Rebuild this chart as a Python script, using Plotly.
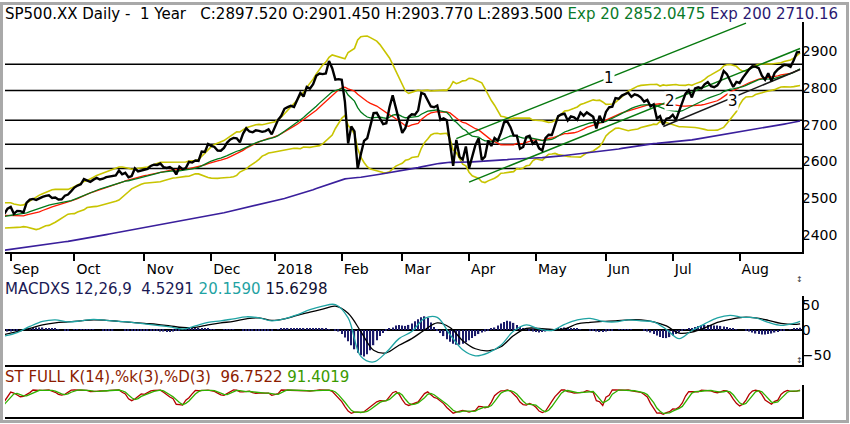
import numpy as np
import pandas as pd
import plotly.graph_objects as go

W, H = 850, 424

# exchange holidays inside the visible year
holidays = ["2017-09-04", "2017-11-23", "2017-12-25", "2018-01-01", "2018-01-15",
            "2018-02-19", "2018-03-30", "2018-05-28", "2018-07-04"]

# bars loaded before the visible window (indicator warm-up), Jul 3 - Aug 29 2017
warmup_close = [2429.01, 2432.54, 2409.75, 2425.18, 2427.43, 2425.53, 2443.25, 2447.83, 2459.27, 2459.14,
                2460.61, 2473.83, 2473.45, 2472.54, 2469.91, 2477.13, 2477.83, 2475.42, 2472.10, 2470.30,
                2476.35, 2477.57, 2472.16, 2476.83, 2480.91, 2474.92, 2474.02, 2438.21, 2441.32, 2465.84,
                2464.61, 2468.11, 2430.01, 2425.55, 2428.37, 2452.51, 2444.04, 2438.97, 2443.05, 2444.24,
                2446.30]

# daily closes, Aug 30 2017 - Aug 28 2018
close = [
    2457.59, 2471.65,
    # Sep
    2476.55, 2457.85, 2465.54, 2465.10, 2461.43, 2488.11, 2496.48, 2498.37, 2495.62, 2500.23,
    2503.87, 2506.65, 2508.24, 2500.60, 2502.22, 2496.66, 2496.84, 2507.04, 2510.06, 2519.36,
    # Oct
    2529.12, 2534.58, 2537.74, 2552.07, 2549.33, 2544.73, 2550.64, 2555.24, 2550.93, 2553.17,
    2557.64, 2559.36, 2561.26, 2562.10, 2575.21, 2564.98, 2569.13, 2557.15, 2560.40, 2581.07,
    2572.83, 2575.26,
    # Nov
    2579.36, 2579.85, 2587.84, 2591.13, 2590.64, 2594.38, 2584.62, 2582.30, 2584.84, 2578.87,
    2564.62, 2585.64, 2578.85, 2582.14, 2599.03, 2597.08, 2602.42, 2601.42, 2627.04, 2626.07,
    2647.58,
    # Dec
    2642.22, 2639.44, 2629.57, 2629.27, 2636.98, 2651.50, 2659.99, 2664.11, 2662.85, 2652.01,
    2675.81, 2690.16, 2681.47, 2679.25, 2684.57, 2683.34, 2680.50, 2682.62, 2687.54, 2673.61,
    # Jan
    2695.81, 2713.06, 2723.99, 2743.15, 2747.71, 2751.29, 2748.23, 2767.56, 2786.24, 2776.42,
    2802.56, 2798.03, 2810.30, 2832.97, 2839.13, 2837.54, 2839.25, 2872.87, 2853.53, 2822.43,
    2823.81,
    # Feb
    2821.98, 2762.13, 2648.94, 2695.14, 2681.66, 2581.00, 2619.55, 2656.00, 2662.94, 2698.63,
    2731.20, 2732.22, 2716.26, 2701.33, 2703.96, 2747.30, 2779.60, 2744.28, 2713.83,
    # Mar
    2677.67, 2691.25, 2720.94, 2728.12, 2726.80, 2738.97, 2786.57, 2783.02, 2765.31, 2749.48,
    2747.33, 2752.01, 2712.92, 2716.94, 2711.93, 2643.69, 2588.26, 2658.55, 2612.62, 2605.00,
    2640.87,
    # Apr
    2581.88, 2614.45, 2644.69, 2662.84, 2604.47, 2613.16, 2656.87, 2642.19, 2663.99, 2656.30,
    2677.84, 2706.39, 2708.64, 2693.13, 2670.14, 2670.29, 2634.56, 2639.40, 2666.94, 2669.91,
    2648.05,
    # May
    2654.80, 2635.67, 2629.73, 2663.42, 2672.63, 2671.92, 2697.79, 2723.07, 2727.72, 2730.13,
    2711.45, 2722.46, 2720.13, 2712.97, 2733.01, 2724.44, 2733.29, 2727.76, 2721.33, 2689.86,
    2724.01, 2705.27,
    # Jun
    2734.62, 2746.87, 2748.80, 2772.35, 2770.37, 2779.03, 2782.00, 2786.85, 2775.63, 2782.49,
    2779.66, 2773.75, 2762.59, 2767.32, 2749.76, 2754.88, 2717.07, 2723.06, 2699.63, 2716.31,
    2718.37,
    # Jul
    2726.71, 2713.22, 2736.61, 2759.82, 2784.17, 2793.84, 2774.02, 2798.29, 2801.31, 2798.43,
    2809.55, 2815.62, 2804.49, 2801.83, 2806.98, 2820.40, 2846.07, 2837.44, 2818.82, 2802.60,
    2816.29,
    # Aug
    2813.36, 2827.22, 2840.35, 2850.40, 2858.45, 2857.70, 2853.58, 2833.28, 2821.93, 2839.96,
    2818.37, 2840.69, 2850.13, 2857.05, 2862.96, 2861.82, 2856.98, 2874.69, 2896.74, 2897.52,
]

month_labels = ["Sep", "Oct", "Nov", "Dec", "2018", "Feb", "Mar", "Apr", "May", "Jun", "Jul", "Aug"]
price_ticks = [2400, 2500, 2600, 2700, 2800, 2900]
macd_ticks = [-50, 0, 50]

# horizontal price levels drawn on the chart
levels = [2864, 2793, 2712, 2647, 2581]

# hand drawn trend lines
trend_start_date = ["2018-03-26", "2018-04-02", "2018-06-27"]
trend_start_price = [2662, 2544, 2695]
trend_end_date = ["2018-08-03", "2018-08-28", "2018-08-28"]
trend_end_price = [2976, 2907, 2850]
trend_label = ["1", "2", "3"]
trend_label_date = ["2018-06-04", "2018-06-29", "2018-07-30"]
trend_label_price = [2828, 2765, 2763]

ema200_first = 2359   # Exp 200 value at the first visible bar

# MACDXS lines, every 4th bar (bar 0 = Aug 30 2017)
macd_bar = list(range(0, 249, 4)) + [250]
macd_line = [-12, -5, 7, 17, 20, 16, 18, 21, 19, 17, 15, 12, 9, 6, 2, 8,
             15, 18, 22, 26, 24, 18, 22, 30, 40, 47, 50, 24, -52, -63, -44, -17,
             -3, 23, 25, -9, -39, -51, -45, -30, -2, 10, 2, -1, 11, 20, 23, 17,
             16, 20, 18, 16, 1, -17, -1, 12, 24, 29, 25, 24, 15, 9, 13, 17]
macd_signal = [-9, -3, 3, 10, 14, 16, 18, 20, 19, 17, 15, 13, 11, 8, 5, 5,
               10, 14, 17, 22, 24, 19, 22, 29, 35, 41, 47, 33, -3, -40, -45, -30,
               -17, 0, 14, 5, -21, -37, -41, -33, -11, 3, 3, 1, 2, 12, 15, 17,
               18, 20, 20, 16, 8, -6, -4, 4, 15, 21, 25, 24, 19, 13, 11, 12]

# MACDXS histogram, one value per bar
macd_hist = [
    -3, -3, -3, -2, -1, 0, 1, 2, 3, 4,
    5, 5, 5, 4, 4, 3, 2, 1, 0, -1,
    -1, 0, 1, 1, 1, 1, 1, 1, 1, 0,
    0, -1, -1, -1, -1, 0, 0, 0, -1, -1,
    -1, -1, -1, -1, -1, -1, -2, -2, -2, -3,
    -3, -4, -4, -3, -2, -1, 0, 1, 2, 3,
    3, 3, 3, 2, 2, 1, 1, 0, 0, 1,
    1, 1, 1, 0, 0, -1, -1, -1, -1, -2,
    -2, -2, -2, -1, -1, 0, 1, 2, 2, 3,
    3, 3, 3, 3, 3, 3, 3, 3, 2, 2,
    2, 2, 1, 0, -1, -3, -8, -15, -22, -30,
    -38, -45, -50, -52, -48, -40, -30, -20, -12, -6,
    -2, 2, 5, 9, 10, 9, 8, 10, 13, 17,
    21, 25, 27, 24, 15, 6, -2, -6, -12, -18,
    -23, -27, -29, -29, -27, -24, -20, -16, -12, -8,
    -5, -3, -1, 2, 5, 9, 13, 16, 18, 17,
    14, 10, 6, 3, 1, -1, -3, -4, -5, -4,
    -3, -2, -1, 0, 2, 4, 5, 5, 4, 3,
    2, 1, 0, 0, -1, -2, -3, -4, -4, -3,
    -2, -1, 0, 1, 1, 1, 1, 1, 0, 0,
    0, -1, -3, -5, -8, -11, -14, -16, -16, -14,
    -11, -8, -5, -2, 1, 2, 4, 6, 8, 9,
    10, 10, 10, 9, 9, 8, 7, 6, 4, 2,
    1, 0, 0, -1, -3, -5, -7, -8, -9, -9,
    -8, -7, -5, -4, -2, -1, 0, 1, 2, 3,
    4.5,
]

# ---- trading-day axis
days = pd.bdate_range("2017-08-30", "2018-08-28")
days = days[~days.isin(pd.to_datetime(holidays))]
assert len(days) == len(close) == len(macd_hist)
idx = np.arange(len(close))
pos = pd.Series(idx, index=days)
month_first = pos.groupby([days.year, days.month]).first().values[1:]

# ---- indicators
s = pd.Series(warmup_close + close)
n0 = len(warmup_close)
ema20 = s.ewm(span=20, adjust=False).mean().values[n0:]
sma20 = s.rolling(20).mean().values[n0:]
sd20 = s.rolling(20).std(ddof=0).values[n0:]
bb_up = sma20 + 2 * sd20
bb_lo = sma20 - 2 * sd20

a200 = 2 / 201
ema200 = [ema200_first]
for c in close[1:]:
    ema200.append(ema200[-1] + a200 * (c - ema200[-1]))

lo14 = s.rolling(14).min()
hi14 = s.rolling(14).max()
raw_k = 100 * (s - lo14) / (hi14 - lo14)
st_k = raw_k.rolling(3).mean()
st_d = st_k.rolling(3).mean()
st_k = st_k.values[n0:]
st_d = st_d.values[n0:]

# ---- figure
fig = go.Figure()

def line(x, y, color, width, xa="x", ya="y", shape="linear"):
    fig.add_trace(go.Scatter(x=x, y=y, mode="lines", xaxis=xa, yaxis=ya,
                             line=dict(color=color, width=width, shape=shape), hoverinfo="skip"))

line(idx, bb_up, "#c8c400", 1.6)
line(idx, bb_lo, "#c8c400", 1.6)
line(idx, ema200, "#3a1f9c", 1.6)
line(idx, sma20, "#ff1a00", 1.3)
line(idx, ema20, "#007a1a", 1.3)

for i in range(len(trend_label)):
    xs = [pos[pd.Timestamp(trend_start_date[i])], pos[pd.Timestamp(trend_end_date[i])]]
    line(xs, [trend_start_price[i], trend_end_price[i]],
         "#1a1a1a" if i == 2 else "#087a10", 1.5)

line(idx, close, "black", 2.4)

fig.add_trace(go.Bar(x=idx, y=macd_hist, width=0.42, xaxis="x2", yaxis="y2",
                     marker=dict(color="#1c1c6a", line=dict(width=0)), hoverinfo="skip"))
line(macd_bar, macd_signal, "black", 1.3, "x2", "y2", "spline")
line(macd_bar, macd_line, "#1fa3a3", 1.3, "x2", "y2", "spline")

line(idx, st_k, "#b40000", 1.3, "x3", "y3")
line(idx, st_d, "#30b000", 1.3, "x3", "y3")

for lv in levels:
    fig.add_shape(type="line", xref="x domain", yref="y", x0=0, x1=1, y0=lv, y1=lv,
                  line=dict(color="black", width=1.5), layer="below")

annots = []
for i in range(len(trend_label)):
    annots.append(dict(x=pos[pd.Timestamp(trend_label_date[i])], y=trend_label_price[i],
                       xref="x", yref="y", text=trend_label[i], showarrow=False,
                       bgcolor="white", borderpad=0, font=dict(size=15, color="black")))

sp = "\u00a0"
hdr_main = ("SP500.XX Daily -" + sp * 2 + "1 Year" + sp * 3 +
            "C:2897.520 O:2901.450 H:2903.770 L:2893.500 "
            "<span style='color:#0a7a2a'>Exp 20 2852.0475</span> "
            "<span style='color:#2c1a72'>Exp 200 2710.16</span>")
hdr_macd = ("<span style='color:#1a1a55'>MACDXS 12,26,9" + sp * 2 + "4.5291</span> "
            "<span style='color:#1fa3a3'>20.1590</span> "
            "<span style='color:#111133'>15.6298</span>")
hdr_st = ("<span style='color:#8c1c00'>ST FULL K(14),%k(3),%D(3)" + sp * 2 + "96.7522</span> "
          "<span style='color:#3a9a00'>91.4019</span>")
for txt, ypx in [(hdr_main, 14), (hdr_macd, 288.5), (hdr_st, 376.5)]:
    annots.append(dict(x=3 / W, y=1 - ypx / H, xref="paper", yref="paper", text=txt,
                       showarrow=False, xanchor="left", yanchor="middle",
                       font=dict(size=15, color="black")))
for ypx in [279, 367]:
    annots.append(dict(x=805 / W, y=1 - ypx / H, xref="paper", yref="paper", text="\u2195",
                       showarrow=False, font=dict(size=8, color="#333333")))

# window frame
fig.add_shape(type="rect", xref="paper", yref="paper", x0=1.5 / W, x1=1 - 2.5 / W,
              y0=2.5 / H, y1=1 - 3.5 / H, line=dict(color="#a9a9a9", width=3))

xr = [0.2, 250.6]
xdom = [5 / W, 802 / W]
common_x = dict(domain=xdom, range=xr, showgrid=False, zeroline=False, showline=True,
                linecolor="black", linewidth=2)
common_y = dict(side="right", showgrid=False, showline=True, linecolor="black", linewidth=2,
                tickfont=dict(size=14, color="black"), ticks="", ticklabelstandoff=-5)

fig.update_layout(
    width=W, height=H, margin=dict(l=0, r=0, t=0, b=0),
    paper_bgcolor="white", plot_bgcolor="white", showlegend=False,
    font=dict(family="DejaVu Sans", size=14, color="black"),
    annotations=annots,
    xaxis=dict(common_x, anchor="y", tickvals=list(month_first), ticktext=month_labels,
               ticks="outside", ticklen=7, tickwidth=2, tickcolor="black",
               ticklabelposition="outside right", ticklabelstandoff=3,
               tickfont=dict(size=14, color="black")),
    yaxis=dict(common_y, domain=[1 - 252 / H, 1 - 22 / H], range=[2354, 2979], anchor="x",
               tickvals=price_ticks, zeroline=False),
    xaxis2=dict(common_x, anchor="y2", matches="x", showticklabels=False, ticks=""),
    yaxis2=dict(common_y, domain=[1 - 365 / H, 1 - 296 / H], range=[-69, 67], anchor="x2",
                tickvals=macd_ticks, zeroline=True, zerolinecolor="black", zerolinewidth=2),
    xaxis3=dict(common_x, anchor="y3", matches="x", showticklabels=False, ticks=""),
    yaxis3=dict(common_y, domain=[1 - 417 / H, 1 - 385 / H], range=[-8, 120], anchor="x3",
                showticklabels=False, zeroline=False),
)

# page body margin would otherwise shift the figure inside the window
fig.write_html("out.html", config={"displayModeBar": False},
               post_script="document.body.style.margin='0';")
